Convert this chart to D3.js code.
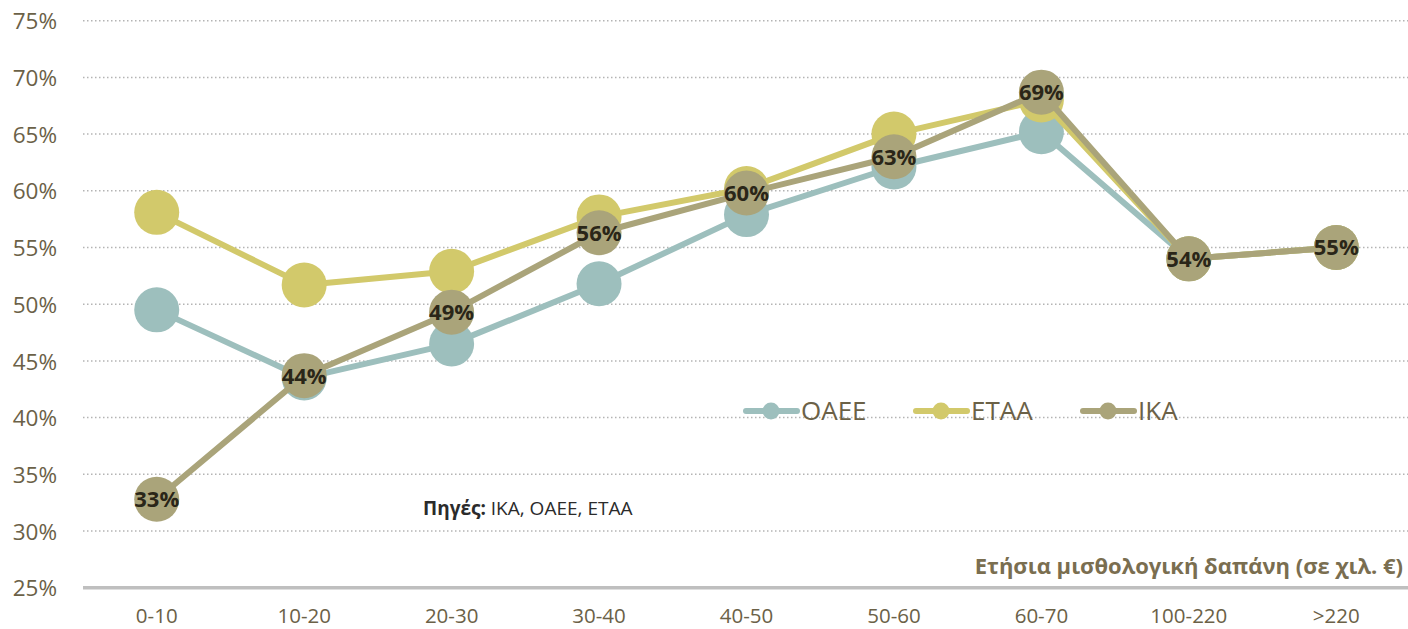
<!DOCTYPE html>
<html>
<head>
<meta charset="utf-8">
<script src="https://cdn.jsdelivr.net/npm/d3@7"></script>
<style>
  html, body { margin: 0; padding: 0; background: #ffffff; }
  svg { display: block; font-family: "Open Sans", "Noto Sans", sans-serif; }
</style>
</head>
<body>
<svg id="chart" width="1408" height="629"></svg>
<script>
const categories = ["0-10", "10-20", "20-30", "30-40", "40-50", "50-60", "60-70", "100-220", ">220"];
const oaee = [49.5, 43.5, 46.5, 51.8, 57.9, 62.1, 65.2, 54.0, 55.0];
const etaa = [58.1, 51.7, 52.9, 57.7, 60.2, 65.0, 68.0, 54.0, 55.0];
const ika  = [32.8, 43.7, 49.3, 56.3, 59.8, 63.0, 68.7, 54.0, 55.0];
const ikaLabels = ["33%", "44%", "49%", "56%", "60%", "63%", "69%", "54%", "55%"];
const yTicks = [25, 30, 35, 40, 45, 50, 55, 60, 65, 70, 75];
const seriesNames = ["ΟΑΕΕ", "ΕΤΑΑ", "ΙΚΑ"];
const seriesColors = ["#9dbfbd", "#d2c96b", "#aaa47a"];
const xTitle = "Ετήσια μισθολογική δαπάνη (σε χιλ. €)";
const sourceBold = "Πηγές:";
const sourceRest = " ΙΚΑ, ΟΑΕΕ, ΕΤΑΑ";

const series = [oaee, etaa, ika];
const svg = d3.select("#chart");
const textColor = "#6b6147";
const FONT = '"Open Sans", "Noto Sans", sans-serif';

const x = d3.scaleBand().domain(categories).range([83, 1410]).padding(0);
const y = d3.scaleLinear().domain([25, 75]).range([587.7, 20.7]);
const cx = c => x(c) + x.bandwidth() / 2;

// gridlines
svg.append("g").selectAll("line")
  .data(yTicks.filter(t => t > 25))
  .join("line")
  .attr("x1", 83).attr("x2", 1408)
  .attr("y1", d => y(d)).attr("y2", d => y(d))
  .attr("stroke", "#b4b4b4").attr("stroke-width", 1.5)
  .attr("stroke-dasharray", "1.5,2.5");

// y axis
const yAxis = d3.axisLeft(y).tickValues(yTicks).tickFormat(d => d + "%").tickSize(0).tickPadding(0);
const yg = svg.append("g").attr("transform", "translate(57,0)").call(yAxis)
  .attr("font-family", FONT).attr("font-size", 22.5);
yg.select(".domain").remove();
yg.selectAll("text").attr("fill", textColor).attr("dy", "0.36em");

// x axis baseline
svg.append("line").attr("x1", 83).attr("x2", 1408)
  .attr("y1", y(25)).attr("y2", y(25))
  .attr("stroke", "#bfbfbf").attr("stroke-width", 3.5);

const xAxis = d3.axisBottom(x).tickSize(0).tickPadding(0);
const xg = svg.append("g").attr("transform", "translate(0,623)").call(xAxis)
  .attr("font-family", FONT).attr("font-size", 20.5);
xg.select(".domain").remove();
xg.selectAll("text").attr("fill", textColor).attr("y", 0).attr("dy", 0);

// x title
svg.append("text").attr("x", 1403).attr("y", 574).attr("text-anchor", "end")
  .attr("fill", "#7a6e50").attr("font-weight", "bold").attr("font-size", 22)
  .text(xTitle);

// source
const src = svg.append("text").attr("x", 423).attr("y", 514.5).attr("font-size", 19).attr("fill", "#2b2b2b");
src.append("tspan").attr("font-weight", "bold").text(sourceBold);
src.append("tspan").text(sourceRest);

// series
const line = d3.line().x((d, i) => cx(categories[i])).y(d => y(d));
series.forEach((vals, si) => {
  const g = svg.append("g");
  g.append("path").datum(vals).attr("d", line)
    .attr("fill", "none").attr("stroke", seriesColors[si]).attr("stroke-width", 6)
    .attr("stroke-linejoin", "round");
  g.selectAll("circle").data(vals).join("circle")
    .attr("cx", (d, i) => cx(categories[i])).attr("cy", d => y(d))
    .attr("r", 22.5).attr("fill", seriesColors[si]);
});

// IKA labels
svg.append("g").selectAll("text").data(ika).join("text")
  .attr("x", (d, i) => cx(categories[i])).attr("y", d => y(d))
  .attr("text-anchor", "middle").attr("dy", "0.36em")
  .attr("font-weight", "bold").attr("font-size", 22).attr("fill", "#2a2618")
  .text((d, i) => ikaLabels[i]);

// legend
const legendX = [743, 913, 1080];
const legendY = 411;
seriesNames.forEach((name, i) => {
  const g = svg.append("g").attr("transform", `translate(${legendX[i]},${legendY})`);
  g.append("line").attr("x1", 3).attr("x2", 54).attr("y1", 0).attr("y2", 0)
    .attr("stroke", seriesColors[i]).attr("stroke-width", 6).attr("stroke-linecap", "round");
  g.append("circle").attr("cx", 28).attr("cy", 0).attr("r", 8.5).attr("fill", seriesColors[i]);
  g.append("text").attr("x", 58).attr("y", 0).attr("dy", "0.36em")
    .attr("font-size", 26).attr("fill", textColor).text(name);
});
</script>
</body>
</html>
